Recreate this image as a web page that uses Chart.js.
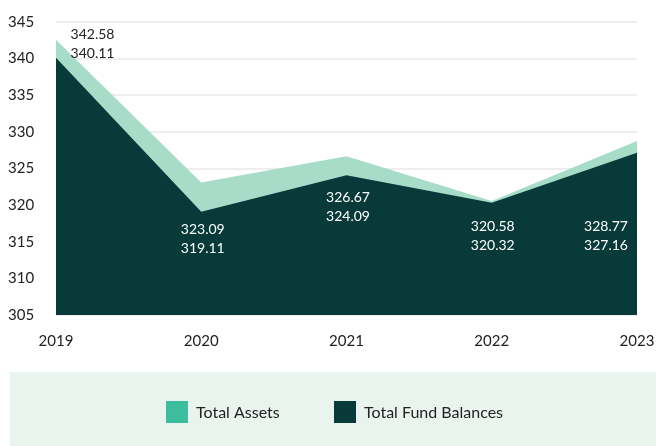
<!DOCTYPE html>
<html><head><meta charset="utf-8">
<script src="https://cdn.jsdelivr.net/npm/chart.js@4.4.1/dist/chart.umd.min.js"></script>
<style>html,body{margin:0;padding:0;background:#fff}#wrap{width:656px;height:446px;position:relative}</style>
</head><body><div id="wrap"><canvas id="c" width="656" height="446"></canvas></div>
<script>
const years = ['2019','2020','2021','2022','2023'];
const totalAssets = [342.58, 323.09, 326.67, 320.58, 328.77];
const totalFundBalances = [340.11, 319.11, 324.09, 320.32, 327.16];
const yTicks = [305, 310, 315, 320, 325, 330, 335, 340, 345];

const FONT = 'Lato, "Open Sans", sans-serif';
const DARK = '#073a38';
const LIGHT_FILL = '#a7dcc9';
const TEAL = '#3dbd9d';

const labelPlugin = {
  id: 'pairLabels',
  afterDatasetsDraw(chart, args, opts) {
    const ctx = chart.ctx;
    const meta = chart.getDatasetMeta(1);
    ctx.save();
    ctx.font = '14px ' + FONT;
    ctx.textAlign = 'center';
    ctx.textBaseline = 'middle';
    meta.data.forEach((pt, i) => {
      const o = opts.offsets[i];
      const x = pt.x + o[0], y = pt.y + o[1];
      ctx.fillStyle = o[2];
      ctx.fillText(totalAssets[i].toFixed(2), x, y - 9.5);
      ctx.fillText(totalFundBalances[i].toFixed(2), x, y + 9.5);
    });
    ctx.restore();
  }
};

const legendPlugin = {
  id: 'boxLegend',
  afterDraw(chart, args, opts) {
    const ctx = chart.ctx;
    ctx.save();
    ctx.fillStyle = '#eaf4ef';
    ctx.fillRect(opts.box[0], opts.box[1], opts.box[2], opts.box[3]);
    ctx.font = '16px ' + FONT;
    ctx.textBaseline = 'middle';
    const items = [{label: chart.data.datasets[0].label, color: TEAL}, {label: chart.data.datasets[1].label, color: DARK}];
    items.forEach((it, i) => {
      const x = opts.xs[i], y = opts.y;
      ctx.fillStyle = it.color;
      ctx.fillRect(x, y - 11, 22, 22);
      ctx.fillStyle = '#222';
      ctx.fillText(it.label, x + 30, y + 1);
    });
    ctx.restore();
  }
};

new Chart(document.getElementById('c'), {
  type: 'line',
  data: {
    labels: years,
    datasets: [
      { label: 'Total Assets', data: totalAssets, backgroundColor: LIGHT_FILL, borderWidth: 0, borderColor: LIGHT_FILL, fill: 'start', pointRadius: 0, tension: 0, order: 2 },
      { label: 'Total Fund Balances', data: totalFundBalances, backgroundColor: DARK, borderWidth: 0, borderColor: DARK, fill: 'start', pointRadius: 0, tension: 0, order: 1 }
    ]
  },
  options: {
    responsive: false,
    animation: false,
    layout: { padding: { left: 8, top: 22, right: 19, bottom: 79 } },
    plugins: {
      legend: { display: false },
      tooltip: { enabled: false },
      pairLabels: { offsets: [[36.5, -14, '#222'], [1.5, 27, '#fff'], [1.5, 31.5, '#fff'], [1, 33, '#fff'], [-31, 83, '#fff']] },
      boxLegend: { box: [10, 372, 646, 74], xs: [166, 334], y: 412 }
    },
    scales: {
      x: {
        offset: false,
        afterFit(scale) { scale.paddingLeft = 0; scale.paddingRight = 0; },
        grid: { display: false, drawTicks: false },
        border: { display: false },
        ticks: { color: '#222', font: { family: FONT, size: 15 }, padding: 17, maxRotation: 0, autoSkip: false }
      },
      y: {
        min: 305, max: 345,
        afterBuildTicks(scale) { scale.ticks = yTicks.map(v => ({ value: v })); },
        afterFit(scale) { scale.width = 48; scale.paddingTop = 0; scale.paddingBottom = 0; },
        grid: { color: '#eeeeee', lineWidth: 2, drawTicks: false },
        border: { display: false },
        ticks: { color: '#222', font: { family: FONT, size: 15 }, crossAlign: 'far', padding: 8 }
      }
    }
  },
  plugins: [labelPlugin, legendPlugin]
});
</script></body></html>
